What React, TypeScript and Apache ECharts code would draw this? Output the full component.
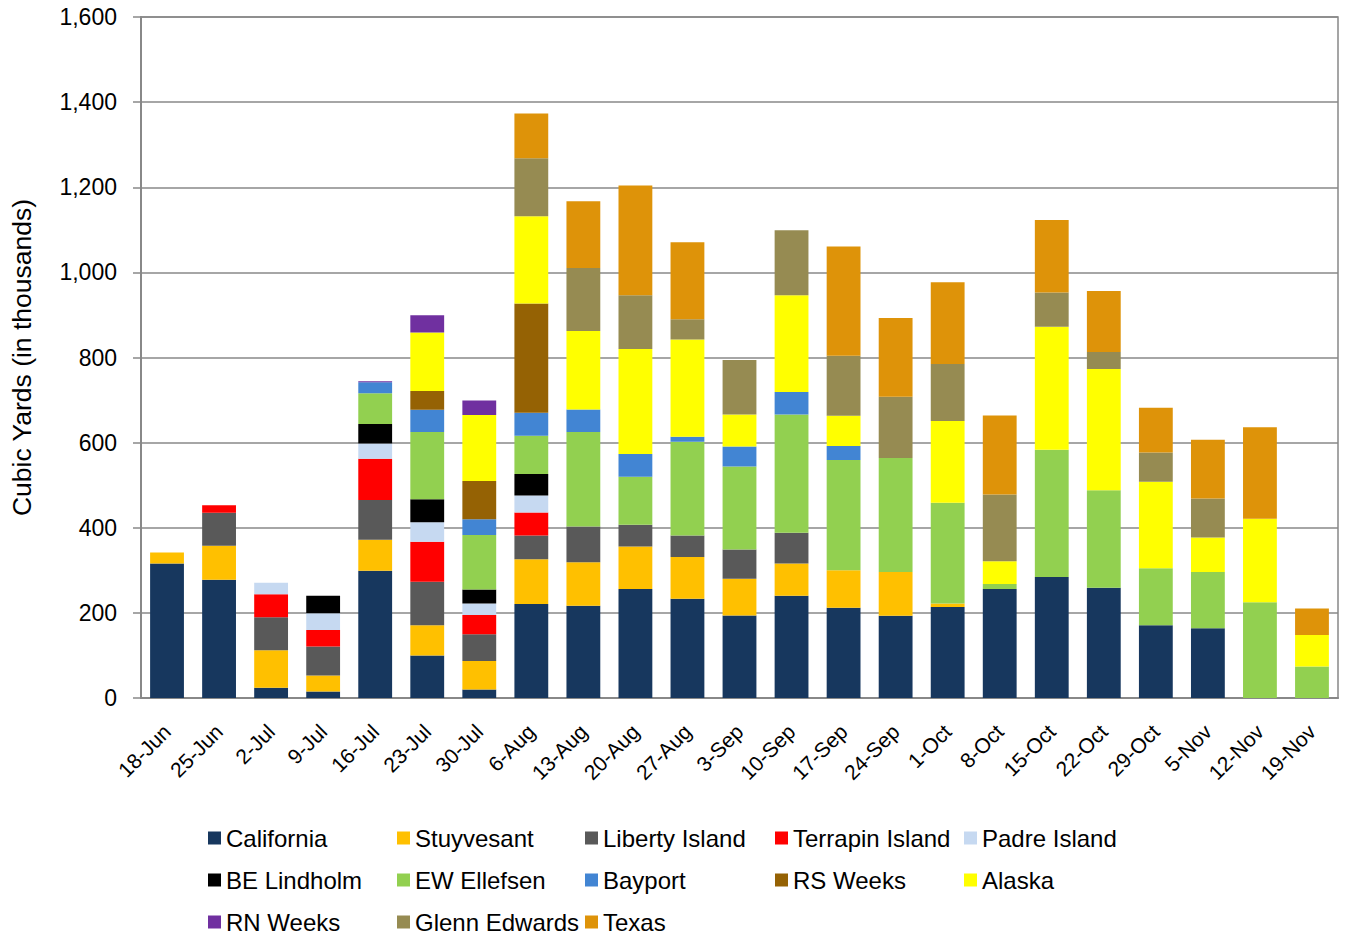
import React, { useEffect, useRef } from "react";
import * as echarts from "echarts";

const categories = ["18-Jun","25-Jun","2-Jul","9-Jul","16-Jul","23-Jul","30-Jul","6-Aug","13-Aug","20-Aug","27-Aug","3-Sep","10-Sep","17-Sep","24-Sep","1-Oct","8-Oct","15-Oct","22-Oct","29-Oct","5-Nov","12-Nov","19-Nov"];

const california = [316, 278, 24, 15, 299, 100, 20, 221, 217, 256, 233, 194, 240, 212, 193, 214, 256, 284, 259, 171, 164, 0, 0];
const stuyvesant = [26, 80, 88, 38, 73, 71, 67, 105, 102, 100, 98, 86, 76, 88, 103, 8, 0, 0, 0, 0, 0, 0, 0];
const libertyIsland = [0, 77, 78, 68, 93, 102, 63, 56, 84, 51, 51, 69, 72, 0, 0, 0, 0, 0, 0, 0, 0, 0, 0];
const terrapinIsland = [0, 18, 54, 39, 97, 94, 45, 54, 0, 0, 0, 0, 0, 0, 0, 0, 0, 0, 0, 0, 0, 0, 0];
const padreIsland = [0, 0, 27, 39, 36, 46, 27, 40, 0, 0, 0, 0, 0, 0, 0, 0, 0, 0, 0, 0, 0, 0, 0];
const beLindholm = [0, 0, 0, 41, 46, 54, 33, 50, 0, 0, 0, 0, 0, 0, 0, 0, 0, 0, 0, 0, 0, 0, 0];
const ewEllefsen = [0, 0, 0, 0, 72, 158, 128, 90, 222, 113, 220, 195, 278, 259, 268, 237, 12, 299, 229, 134, 132, 225, 74];
const bayport = [0, 0, 0, 0, 26, 52, 37, 54, 53, 53, 12, 47, 53, 33, 0, 0, 0, 0, 0, 0, 0, 0, 0];
const rsWeeks = [0, 0, 0, 0, 0, 44, 90, 257, 0, 0, 0, 0, 0, 0, 0, 0, 0, 0, 0, 0, 0, 0, 0];
const alaska = [0, 0, 0, 0, 0, 138, 155, 205, 184, 247, 228, 75, 227, 71, 0, 192, 53, 289, 285, 203, 81, 196, 74];
const rnWeeks = [0, 0, 0, 0, 2, 40, 34, 0, 0, 0, 0, 0, 0, 0, 0, 0, 0, 0, 0, 0, 0, 0, 0];
const glennEdwards = [0, 0, 0, 0, 0, 0, 0, 136, 148, 126, 48, 128, 153, 141, 144, 134, 157, 81, 40, 69, 92, 0, 0];
const texas = [0, 0, 0, 0, 0, 0, 0, 105, 157, 258, 181, 0, 0, 257, 185, 192, 186, 170, 143, 105, 138, 215, 62];

const seriesDefs = [
  { name: "California", data: california, color: "#17375E" },
  { name: "Stuyvesant", data: stuyvesant, color: "#FFC000" },
  { name: "Liberty Island", data: libertyIsland, color: "#595959" },
  { name: "Terrapin Island", data: terrapinIsland, color: "#FF0000" },
  { name: "Padre Island", data: padreIsland, color: "#C6D9F1" },
  { name: "BE Lindholm", data: beLindholm, color: "#000000" },
  { name: "EW Ellefsen", data: ewEllefsen, color: "#92D050" },
  { name: "Bayport", data: bayport, color: "#4285D3" },
  { name: "RS Weeks", data: rsWeeks, color: "#956204" },
  { name: "Alaska", data: alaska, color: "#FFFF00" },
  { name: "RN Weeks", data: rnWeeks, color: "#7030A0" },
  { name: "Glenn Edwards", data: glennEdwards, color: "#968B52" },
  { name: "Texas", data: texas, color: "#DE9309" },
];

// legend grid: 5 columns, items fill row by row
const legendLefts = [208, 397, 585, 775, 964];
const legendTops = [826, 868, 910];

const FONT = "Liberation Sans, Arial, sans-serif";

export default function App() {
  const ref = useRef<HTMLDivElement>(null);
  useEffect(() => {
    if (!ref.current) return;
    const chart = echarts.init(ref.current, undefined, { renderer: "svg" });
    chart.setOption({
      animation: false,
      textStyle: { fontFamily: FONT },
      grid: {
        left: 141,
        top: 17,
        right: 8,
        bottom: 236,
        show: true,
        borderColor: "#888888",
        borderWidth: 1.5,
      },
      legend: seriesDefs.map((s, i) => ({
        data: [s.name],
        orient: "horizontal",
        left: legendLefts[i % 5],
        top: legendTops[Math.floor(i / 5)],
        padding: 0,
        itemWidth: 13,
        itemHeight: 13,
        icon: "rect",
        selectedMode: false,
        textStyle: { fontSize: 24, color: "#000", fontFamily: FONT },
      })),
      xAxis: {
        type: "category",
        data: categories,
        axisLine: { lineStyle: { color: "#888888", width: 2 } },
        axisTick: { show: false },
        axisLabel: {
          rotate: 45,
          fontSize: 21,
          color: "#000",
          margin: 30,
          interval: 0,
          fontFamily: FONT,
        },
      },
      yAxis: {
        type: "value",
        min: 0,
        max: 1600,
        interval: 200,
        name: "Cubic Yards (in thousands)",
        nameLocation: "middle",
        nameRotate: 90,
        nameGap: 106,
        nameTextStyle: { fontSize: 26.5, color: "#000", fontFamily: FONT },
        axisLine: { show: true, lineStyle: { color: "#888888", width: 2 } },
        axisTick: { show: true, inside: false, length: 8, lineStyle: { color: "#888888", width: 1.5 } },
        splitLine: { lineStyle: { color: "#888888", width: 1.5 } },
        axisLabel: {
          fontSize: 23,
          color: "#000",
          margin: 24,
          fontFamily: FONT,
          formatter: (v: number) => v.toLocaleString("en-US"),
        },
      },
      series: seriesDefs.map((s) => ({
        name: s.name,
        type: "bar",
        stack: "total",
        data: s.data,
        barCategoryGap: "35%",
        itemStyle: { color: s.color },
      })),
    });
    return () => chart.dispose();
  }, []);
  return (
    <div
      ref={ref}
      style={{ position: "absolute", left: 0, top: 0, width: 1346, height: 934 }}
    />
  );
}
